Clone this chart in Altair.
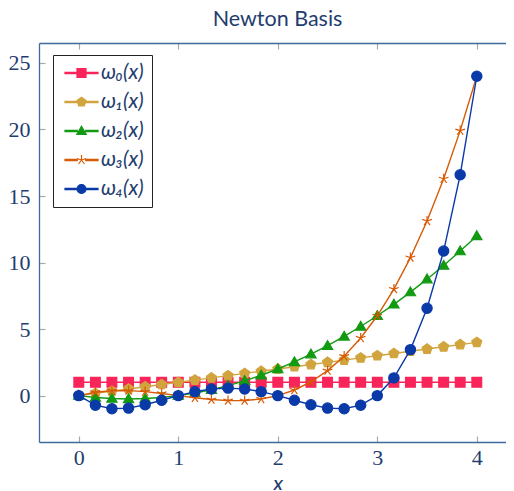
import altair as alt
import pandas as pd

# sample positions (step 1/6 on [0, 4])
x_vals = [0.0, 0.167, 0.333, 0.5, 0.667, 0.833, 1.0, 1.167, 1.333, 1.5, 1.667, 1.833,
          2.0, 2.167, 2.333, 2.5, 2.667, 2.833, 3.0, 3.167, 3.333, 3.5, 3.667, 3.833, 4.0]
w0 = [1.0] * 25
w1 = [0.0, 0.167, 0.333, 0.5, 0.667, 0.833, 1.0, 1.167, 1.333, 1.5, 1.667, 1.833,
      2.0, 2.167, 2.333, 2.5, 2.667, 2.833, 3.0, 3.167, 3.333, 3.5, 3.667, 3.833, 4.0]
w2 = [0.0, -0.139, -0.222, -0.25, -0.222, -0.139, 0.0, 0.194, 0.444, 0.75, 1.111, 1.528,
      2.0, 2.528, 3.111, 3.75, 4.444, 5.194, 6.0, 6.861, 7.778, 8.75, 9.778, 10.861, 12.0]
w3 = [0.0, 0.255, 0.370, 0.375, 0.296, 0.162, 0.0, -0.162, -0.296, -0.375, -0.370, -0.255,
      0.0, 0.421, 1.037, 1.875, 2.963, 4.329, 6.0, 8.005, 10.370, 13.125, 16.296, 19.912, 24.0]
w4 = [0.0, -0.722, -0.988, -0.938, -0.691, -0.351, 0.0, 0.297, 0.494, 0.563, 0.494, 0.297,
      0.0, -0.351, -0.691, -0.938, -0.988, -0.722, 0.0, 1.334, 3.457, 6.563, 10.864, 16.593, 24.0]

names = ["ω₀(x)", "ω₁(x)", "ω₂(x)", "ω₃(x)", "ω₄(x)"]
series = [w0, w1, w2, w3, w4]
colors = ["#f8245a", "#d1a43e", "#139a13", "#d75a05", "#0a3aa8"]

x_ticks = [0, 1, 2, 3, 4]
y_ticks = [0, 5, 10, 15, 20, 25]

# marker shapes (unit square -1..1)
square = "M-1,-1H1V1H-1Z"
pent = "M0,-1.05L1,-0.32L0.62,0.85L-0.62,0.85L-1,-0.32Z"
tri = "M0,-1.05L1.05,0.75L-1.05,0.75Z"
star = "M0,0L0,-1.1M0,0L1.05,-0.34M0,0L0.65,0.89M0,0L-0.65,0.89M0,0L-1.05,-0.34"
circ = "M-1,0A1,1 0 1,0 1,0A1,1 0 1,0 -1,0Z"
shapes = [square, pent, tri, star, "circle"]
sizes = [95, 100, 95, 85, 105]

seg = "M-3.67,-0.16H-0.95V0.16H-3.67ZM0.95,-0.16H3.67V0.16H0.95Z"
legend_shapes = [square + seg, pent + seg, tri + seg, star + seg, circ + seg]

rows = []
for n, s in zip(names, series):
    for xv, yv in zip(x_vals, s):
        rows.append({"x": xv, "y": yv, "series": n})
df = pd.DataFrame(rows)

navy = "#1f3d6e"
frame = "#3f6a9b"
tick_gray = "#a8a8a8"
xs = alt.Scale(domain=[-0.4, 4.2935], nice=False, zero=False)
ys = alt.Scale(domain=[-3.487, 26.499], nice=False, zero=False)

x_bottom = alt.Axis(orient="bottom", values=x_ticks, format="d", offset=-6, tickSize=6,
                    tickColor=tick_gray, tickWidth=1.2, domain=False, grid=False,
                    labelPadding=5, labelFont="Liberation Serif", labelFontSize=22,
                    labelColor=navy, title="x", titleFont="Lato", titleFontStyle="italic",
                    titleFontWeight="normal", titleFontSize=22, titleColor=navy,
                    titleBaseline="alphabetic", titleY=54, titleX=238.5)
y_left = alt.Axis(orient="left", values=y_ticks, format="d", offset=-6, tickSize=6,
                  tickColor=tick_gray, tickWidth=1.2, domain=False, grid=False,
                  labelPadding=9, labelFont="Liberation Serif", labelFontSize=22,
                  labelColor=navy, title=None)
x_top = alt.Axis(orient="top", values=x_ticks, offset=-6, tickSize=6, tickColor=tick_gray,
                 tickWidth=1.2, domain=False, grid=False, labels=False, title=None)
y_frame = alt.Axis(orient="left", offset=0, ticks=False, labels=False, domain=True,
                   domainColor=frame, domainWidth=1.3, grid=False, title=None)
x_frame_b = alt.Axis(orient="bottom", offset=0, ticks=False, labels=False, domain=True,
                     domainColor=frame, domainWidth=1.3, grid=False, title=None)
x_frame_t = alt.Axis(orient="top", offset=0, ticks=False, labels=False, domain=True,
                     domainColor=frame, domainWidth=1.3, grid=False, title=None)

leg = alt.Legend(title=None, orient="none", legendX=14, legendY=12, padding=7.5,
                 strokeColor="#222222", fillColor="white", symbolSize=81,
                 symbolOpacity=1, symbolStrokeWidth=1.2, symbolOffset=10.5,
                 labelOffset=9, rowPadding=7, labelFont="Lato",
                 labelFontStyle="italic", labelFontSize=21, labelColor=navy)

base = alt.Chart(df)
legend_layer = base.mark_point(filled=True, opacity=0).encode(
    x=alt.X("x:Q", scale=xs, axis=None),
    y=alt.Y("y:Q", scale=ys, axis=None),
    color=alt.Color("series:N", scale=alt.Scale(domain=names, range=colors), legend=leg),
    stroke=alt.Stroke("series:N", scale=alt.Scale(domain=names, range=colors), legend=leg),
    shape=alt.Shape("series:N", scale=alt.Scale(domain=names, range=legend_shapes), legend=leg),
)

x_axes = {0: (x_bottom, x_top), 1: (x_frame_b, x_frame_t)}
y_axes = {0: (y_left, y_frame)}

layers = [legend_layer]
for i, n in enumerate(names):
    sub = base.transform_filter(alt.datum.series == n)
    xa_line, xa_pts = x_axes.get(i, (None, None))
    ya_line, ya_pts = y_axes.get(i, (None, None))
    line = sub.mark_line(color=colors[i], strokeWidth=1.4).encode(
        x=alt.X("x:Q", scale=xs, axis=xa_line),
        y=alt.Y("y:Q", scale=ys, axis=ya_line),
        order="x:Q",
    )
    pts = sub.mark_point(filled=True, shape=shapes[i], size=sizes[i], color=colors[i],
                         stroke=colors[i], strokeWidth=1.2, opacity=1).encode(
        x=alt.X("x:Q", scale=xs, axis=xa_pts),
        y=alt.Y("y:Q", scale=ys, axis=ya_pts),
    )
    layers += [line, pts]

chart = alt.layer(*layers).resolve_axis(x="independent", y="independent").properties(
    width=467, height=399,
    title=alt.Title("Newton Basis", font="Lato", fontSize=21.5, fontWeight="normal",
                    color=navy, anchor="middle", offset=12, frame="group", dx=5),
    autosize=alt.AutoSizeParams(type="none"),
    padding={"left": 31, "top": 35, "right": 0, "bottom": 48},
).configure_view(stroke=None)

chart.save("out.html", embed_options={"renderer": "svg", "actions": False})
